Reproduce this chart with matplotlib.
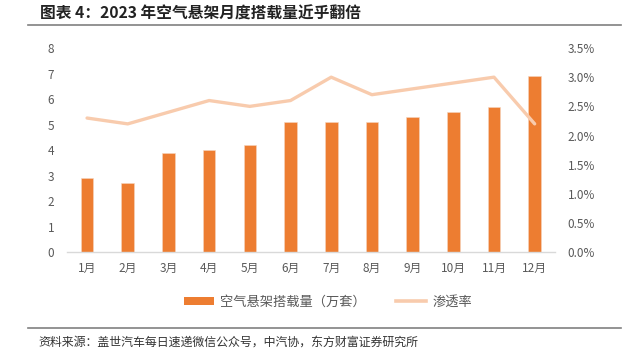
import matplotlib
matplotlib.use("Agg")
import matplotlib.pyplot as plt
from matplotlib.lines import Line2D
from matplotlib.patches import Patch

plt.rcParams['font.family'] = ['Noto Sans CJK SC', 'DejaVu Sans']

# --- data ---
months = ["1月", "2月", "3月", "4月", "5月", "6月",
          "7月", "8月", "9月", "10月", "11月", "12月"]
volume = [2.9, 2.7, 3.9, 4.0, 4.2, 5.1, 5.1, 5.1, 5.3, 5.5, 5.7, 6.9]   # 万套
penetration = [2.3, 2.2, 2.4, 2.6, 2.5, 2.6, 3.0, 2.7, 2.8, 2.9, 3.0, 2.2]  # %

left_ticks = list(range(0, 9))
right_ticks = [0.0, 0.5, 1.0, 1.5, 2.0, 2.5, 3.0, 3.5]

BAR = "#ED7D31"
LINE = "#F8CBAD"
TXT = "#595959"

fig = plt.figure(figsize=(6.27, 3.55), dpi=100)
ax = fig.add_axes([0.1064, 0.2893, 0.7788, 0.5755])
ax2 = ax.twinx()

x = list(range(len(months)))
ax.bar(x, volume, width=0.31, color=BAR, edgecolor="#F6D5BF", linewidth=0.4, zorder=2)
ax2.plot(x, penetration, color=LINE, linewidth=2.4, solid_capstyle="round", zorder=3)

ax.set_xlim(-0.5, 11.5)
ax.set_ylim(0, 8)
ax2.set_ylim(0, 3.5)
ax.set_xticks(x)
ax.set_xticklabels(months)
ax.set_yticks(left_ticks)
ax2.set_yticks(right_ticks)
ax2.set_yticklabels([f"{v:.1f}%" for v in right_ticks])

for a in (ax, ax2):
    for s in a.spines.values():
        s.set_visible(False)
    a.tick_params(length=0, labelsize=8.5, colors=TXT)
ax.spines["bottom"].set_visible(True)
ax.spines["bottom"].set_color("#D9D9D9")
ax.spines["bottom"].set_linewidth(1.0)
ax.tick_params(axis="x", pad=7)
ax.tick_params(axis="y", pad=9)
ax2.tick_params(axis="y", pad=9)

handles = [Patch(facecolor=BAR, edgecolor="none"),
           Line2D([0], [0], color=LINE, linewidth=2.6)]
fig.legend(handles, ["空气悬架搭载量（万套）", "渗透率"],
           loc="center", bbox_to_anchor=(0.523, 0.149), ncol=2, frameon=False,
           fontsize=9.5, labelcolor=TXT, handlelength=2.3, handleheight=0.5,
           columnspacing=2.3, handletextpad=0.45)

# header / footer
fig.text(0.064, 0.962, "图表 4：2023 年空气悬架月度搭载量近乎翻倍",
         fontsize=11.3, fontweight="bold", color="#222222", va="center")
fig.add_artist(Line2D([0.045, 0.99], [0.929, 0.929], color="#808080", linewidth=1.2))
fig.add_artist(Line2D([0.045, 0.99], [0.076, 0.076], color="#808080", linewidth=1.2))
fig.text(0.061, 0.037, "资料来源：盖世汽车每日速递微信公众号，中汽协，东方财富证券研究所",
         fontsize=8.6, color="#333333", va="center")

fig.savefig("out.png", dpi=100)
